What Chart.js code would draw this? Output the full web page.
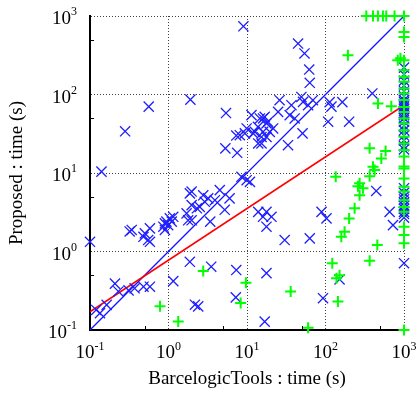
<!DOCTYPE html>
<html>
<head>
  <meta charset="utf-8" />
  <title>Proposed vs BarcelogicTools</title>
  <style>body{margin:0;background:#fff}</style>
</head>
<body>
  <canvas id="stage" width="417" height="393"></canvas>

  <script src="https://cdn.jsdelivr.net/npm/chart.js@4.4.0/dist/chart.umd.min.js"></script>
  <script>
    // axis ticks: decades with exponent labels, minor marks at 5 x 10^n
    const decades = [0.1, 1, 10, 100, 1000];
    const exponents = ['-1', '0', '1', '2', '3'];
    const minorTicks = [0.5, 5, 50, 500];

    // blue x markers (BarcelogicTools time, Proposed time)
    const blueX = [9, 0.56, 1.9, 5.4, 0.28, 0.14, 0.1, 0.32, 44.7, 54, 62, 63, 395, 113, 119, 164, 108, 200, 51,
      7.3, 11.4, 12.6, 13.8, 16, 17.7, 15.3, 9.9, 19.5,
      14.6, 16.8, 18.5, 21.5, 16, 26, 24.9, 36.8, 35, 40.5, 49.3, 51.8, 60, 69, 17.7,
      15.3, 33.3, 5.3, 7.5, 8.1, 9.4, 12, 13.9, 8.5, 9.9, 10.9,
      1.97, 2.77, 3.2, 2.9, 3.9, 4.5, 6.0, 5.2, 3.4, 2.5, 2.3, 1.97, 1.7, 1.78,
      1.04, 0.9, 0.94, 1.1, 0.9, 0.86, 0.58, 0.5, 0.55, 0.48, 0.34, 0.58, 1.15, 0.99, 1.87, 1.97,
      13.9, 16, 17.7, 17.7, 20.5, 30.2, 63, 89, 103, 443, 656, 724,
      0.134, 0.12, 0.163, 0.208, 0.23, 0.31, 0.37, 0.48, 0.58, 1.15, 1.87, 3.5, 2.17, 2.39, 7.3, 7.2, 16.8, 17.7, 93, 151, 1000,
      1000, 1000, 1000, 1000, 1000, 1000, 1000, 1000, 1000, 1000, 1000, 1000, 1000, 1000, 1000, 1000, 1000, 1000, 1000, 1000, 1000, 1000,
      1000, 1000, 1000, 1000, 1000, 1000, 1000, 1000, 1000, 1000];
    const blueY = [740, 70, 86, 58, 34, 10.4, 1.33, 1.8, 446, 333, 208, 141, 103, 80, 70, 80, 45, 45, 32,
      30, 54.6, 33.4, 38.7, 49.5, 42.8, 28.8, 36.9, 33.4,
      49.5, 52, 45, 36.9, 33.4, 84.5, 60, 73, 54.6, 49.5, 93, 80.5, 73, 84.5, 28.8,
      23.8, 22.6, 20.6, 18.1, 30.3, 32, 32, 23.8, 8.95, 8.1, 7.7,
      5.8, 5.2, 4.75, 4.3, 4.5, 6.05, 4.75, 3.4, 2.4, 3.7, 3.55, 3.9, 3.06, 2.5,
      2.64, 2.28, 2.4, 2.4, 1.88, 2.07, 1.97, 1.7, 1.4, 1.54, 1.88, 1.33, 2.77, 2.17, 5.5, 2.5,
      3.2, 2.77, 2.07, 3.2, 2.77, 1.4, 1.47, 3.2, 2.64, 5.9, 3.2, 2.17,
      0.164, 0.18, 0.209, 0.39, 0.31, 0.32, 0.34, 0.356, 0.356, 0.42, 0.74, 0.64, 0.21, 0.2, 0.58, 0.26, 0.128, 0.53, 0.254, 0.44, 0.71,
      220, 180, 150, 130, 110, 95, 85, 80, 75, 70, 66, 62, 58, 55, 50, 45, 40, 35, 30, 26, 22, 20,
      6.4, 5.6, 5.0, 4.6, 4.2, 3.8, 3.5, 3.2, 3.0, 2.7];

    // green + markers
    const greenX = [331, 403, 466, 539, 594, 758, 1000, 193, 466, 689, 832, 900,
      365, 583, 514, 403, 423, 365, 135, 272, 259, 300, 272, 235, 200, 175, 159, 457,
      122, 365, 138, 151, 144, 60, 36, 0.78, 1.33, 2.77, 9.7, 8.3, 1000,
      1000, 1000, 1000, 1000, 1000, 1000, 1000, 1000, 1000, 1000, 1000, 1000, 1000, 1000, 1000,
      1000, 1000, 1000, 1000, 1000, 1000, 1000, 1000, 1000, 1000, 1000, 1000, 1000, 1000];
    const greenY = [1000, 1000, 1000, 1000, 1000, 1000, 1000, 316, 77, 71, 273, 290,
      20.6, 19.1, 15.3, 12, 10.9, 9.1, 8.95, 7.4, 6.8, 6.4, 5.2, 3.55, 2.64, 1.79, 1.54, 1.21,
      0.71, 0.76, 0.456, 0.5, 0.23, 0.107, 0.31, 0.2, 0.128, 0.565, 0.4, 0.22, 0.1,
      626, 541, 273, 204, 168, 145, 119, 103, 85, 69.4, 60, 49.5, 42.8, 35, 29,
      23.8, 19.6, 16.2, 12.1, 11.4, 8.5, 6.7, 5.8, 4.5, 3.7, 3.2, 2.07, 1.62, 1.27];

    // reference lines
    const diagX = [0.1, 1000];
    const diagY = [0.1, 1000];
    const fitX = [0.1, 1000];
    const fitY = [0.171, 73];

    const toPoints = (xs, ys) => xs.map((v, i) => ({x: v, y: ys[i]}));

    const serif = '"Liberation Serif", "Times New Roman", serif';

    const labelPlugin = {
      id: 'logLabels',
      afterDraw(chart) {
        const {ctx, chartArea: a, scales: {x, y}} = chart;
        ctx.save();
        ctx.strokeStyle = '#000';
        ctx.lineWidth = 1;
        minorTicks.forEach(v => {
          const px = Math.round(x.getPixelForValue(v)) + 0.5;
          ctx.beginPath(); ctx.moveTo(px, a.bottom); ctx.lineTo(px, a.bottom - 4); ctx.stroke();
          const py = Math.round(y.getPixelForValue(v)) + 0.5;
          ctx.beginPath(); ctx.moveTo(a.left, py); ctx.lineTo(a.left + 4, py); ctx.stroke();
        });

        ctx.fillStyle = '#000';
        ctx.textBaseline = 'alphabetic';
        decades.forEach((v, i) => {
          ctx.font = '19px ' + serif;
          const w1 = ctx.measureText('10').width;
          ctx.font = '12px ' + serif;
          const w2 = ctx.measureText(exponents[i]).width;
          // x axis
          const px = x.getPixelForValue(v);
          const left = px - (w1 + w2) / 2;
          ctx.textAlign = 'left';
          ctx.font = '19px ' + serif;
          ctx.fillText('10', left, 358);
          ctx.font = '12px ' + serif;
          ctx.fillText(exponents[i], left + w1, 350);
          // y axis
          const py = y.getPixelForValue(v);
          const right = 77;
          ctx.font = '19px ' + serif;
          ctx.fillText('10', right - w2 - w1, py + 8);
          ctx.font = '12px ' + serif;
          ctx.fillText(exponents[i], right - w2, py - 1);
        });

        ctx.font = '19px ' + serif;
        ctx.textAlign = 'center';
        ctx.fillText('BarcelogicTools : time (s)', (a.left + a.right) / 2, 384);
        ctx.translate(22, (a.top + a.bottom) / 2);
        ctx.rotate(-Math.PI / 2);
        ctx.fillText('Proposed : time (s)', 0, 0);
        ctx.restore();
      }
    };

    const logAxis = {
      type: 'logarithmic',
      min: 0.1,
      max: 1000,
      afterBuildTicks: s => { s.ticks = decades.map(v => ({value: v})); },
      ticks: {display: false},
      grid: {color: 'rgba(0,0,0,0.75)', lineWidth: 1, drawTicks: false},
      border: {display: true, color: '#000', width: 2, dash: [1, 2]}
    };

    new Chart(document.getElementById('stage'), {
      type: 'scatter',
      data: {
        datasets: [{
          data: toPoints(greenX, greenY),
          pointStyle: 'cross',
          pointRadius: 5.5,
          borderColor: 'rgb(0,255,0)',
          borderWidth: 2,
          clip: false,
          order: 0
        }, {
          data: toPoints(blueX, blueY),
          pointStyle: 'crossRot',
          pointRadius: 7.2,
          borderColor: 'rgb(30,30,255)',
          borderWidth: 1.3,
          clip: false,
          order: 1
        }, {
          data: toPoints(fitX, fitY),
          showLine: true,
          pointRadius: 0,
          borderColor: 'rgb(255,0,0)',
          borderWidth: 1.6,
          order: 2
        }, {
          data: toPoints(diagX, diagY),
          showLine: true,
          pointRadius: 0,
          borderColor: 'rgb(20,20,255)',
          backgroundColor: 'rgb(20,20,255)',
          borderWidth: 1.3,
          order: 3
        }]
      },
      options: {
        responsive: false,
        animation: false,
        layout: {padding: {left: 90, right: 13, top: 16, bottom: 63}},
        scales: {x: logAxis, y: logAxis},
        plugins: {legend: {display: false}, tooltip: {enabled: false}}
      },
      plugins: [labelPlugin]
    });
  </script>
</body>
</html>
